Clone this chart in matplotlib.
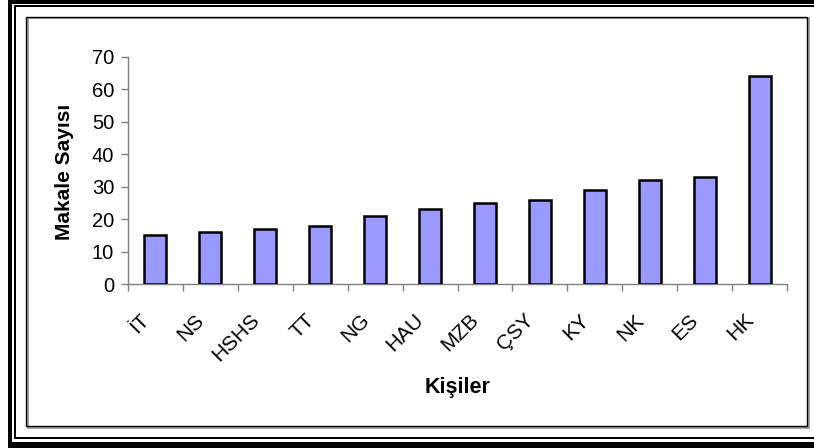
import matplotlib
matplotlib.use("Agg")
import matplotlib.pyplot as plt
from matplotlib.patches import Rectangle
from matplotlib.transforms import ScaledTranslation
import numpy as np

W, H = 814, 448

people = ["İT", "NS", "HSHS", "TT", "NG", "HAU", "MZB", "ÇSY", "KY", "NK", "ES", "HK"]
counts = [15, 16, 17, 18, 21, 23, 25, 26, 29, 32, 33, 64]
yticks = [0, 10, 20, 30, 40, 50, 60, 70]

plt.rcParams["font.family"] = ["Liberation Sans", "DejaVu Sans"]

fig = plt.figure(figsize=(W / 100, H / 100), dpi=100)


def fx(x):
    return x / W


def fy(y):
    return 1 - y / H


def box(x, y, w, h, **kw):
    # rectangle given in pixel coords (top-left origin)
    fig.add_artist(Rectangle((fx(x), fy(y + h)), w / W, h / H,
                             transform=fig.transFigure, **kw))


# double page frame (partly cropped on the right)
box(8, 0, 4, 448, color="black", lw=0)
box(8, 0, 806, 4, color="black", lw=0)
box(8, 442, 806, 6, color="black", lw=0)
box(14, 5, 2, 434, color="black", lw=0)
box(14, 5, 800, 2, color="black", lw=0)
box(14, 437, 800, 2, color="black", lw=0)

# chart area border with a small gray shadow
box(27.5, 18.5, 781, 409, fill=False, ec="#909090", lw=1.2)
box(26, 17, 781, 409, fill=False, ec="black", lw=1.0)

ax = fig.add_axes([fx(128), fy(284), (787 - 128) / W, (284 - 57) / H])
x = np.arange(len(people))
ax.bar(x, counts, width=0.4, color="#9999FF", edgecolor="black", linewidth=1.8, zorder=3)

ax.set_xlim(-0.5, len(people) - 0.5)
ax.set_ylim(0, 70)
ax.set_yticks(yticks)
ax.set_yticklabels([str(v) for v in yticks], fontsize=14.5)

# category labels: rotated, right end a bit left of the bar centre (Excel style)
ax.set_xticks([])
ax.set_xticks(np.arange(-0.5, len(people)), minor=True)
ax.tick_params(axis="x", which="minor", length=5, width=1, color="#808080",
               direction="out", labelbottom=False)
lab_tr = ax.get_xaxis_transform() + ScaledTranslation(-9 / 100, -33 / 100, fig.dpi_scale_trans)
for xi, name in zip(x, people):
    ax.text(xi, 0, name, transform=lab_tr, fontsize=15, rotation=45,
            ha="right", va="center", rotation_mode="anchor")

ax.tick_params(axis="y", length=5, width=1, color="#808080", direction="out", pad=5)

for s in ["top", "right"]:
    ax.spines[s].set_visible(False)
for s in ["left", "bottom"]:
    ax.spines[s].set_color("#808080")
    ax.spines[s].set_linewidth(1)

fig.text(fx(65), fy(172), "Makale Sayısı", rotation=90, ha="center", va="center",
         fontsize=15, fontweight="bold")
fig.text(fx(458), fy(387), "Kişiler", ha="center", va="center",
         fontsize=15.5, fontweight="bold")

fig.savefig("out.png", dpi=100)
